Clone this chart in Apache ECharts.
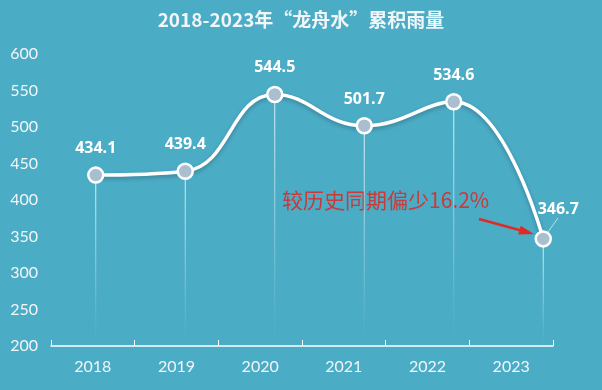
<!DOCTYPE html>
<html><head><meta charset="utf-8">
<script src="https://cdn.jsdelivr.net/npm/echarts@6/dist/echarts.min.js"></script>
<style>html,body{margin:0;padding:0;background:#4bacc6;}#c{width:602px;height:390px;}</style>
</head><body><div id="c"></div>
<script>
const years = ['2018','2019','2020','2021','2022','2023'];
const rainfall = [434.1, 439.4, 544.5, 501.7, 534.6, 346.7];
const yTicks = {min:200, max:600, interval:50};
const titleText = '2018-2023年“龙舟水”累积雨量';
const noteText = '较历史同期偏少16.2%';

const chart = echarts.init(document.getElementById('c'));
chart.setOption({
  backgroundColor:'#4bacc6',
  animation:false,
  title:{text:titleText,left:'center',top:5,textStyle:{color:'#f2f6f8',fontSize:19,fontWeight:'bold',fontFamily:'Noto Sans CJK SC'}},
  grid:[{left:51,right:49,top:54,bottom:44},{left:51,right:14,top:54,bottom:44}],
  xAxis:[
    {type:'category',gridIndex:0,data:years,boundaryGap:true,
     axisLine:{lineStyle:{color:'#ffffff',width:1.5}},
     axisTick:{show:true,length:6,inside:true,lineStyle:{color:'#ffffff'}},
     axisLabel:{color:'#f2f6f8',fontSize:16,fontFamily:'Lato',margin:13}},
    {type:'category',gridIndex:1,data:years,boundaryGap:true,show:false}
  ],
  yAxis:[
    {type:'value',gridIndex:0,min:yTicks.min,max:yTicks.max,interval:yTicks.interval,
     axisLine:{show:false},axisTick:{show:false},splitLine:{show:false},
     axisLabel:{color:'#f2f6f8',fontSize:16,fontFamily:'Lato',margin:13}},
    {type:'value',gridIndex:1,min:yTicks.min,max:yTicks.max,interval:yTicks.interval,show:false,splitLine:{show:false}}
  ],
  series:[
    {type:'bar',xAxisIndex:1,yAxisIndex:1,data:rainfall,barWidth:1,silent:true,z:1,
     itemStyle:{color:new echarts.graphic.LinearGradient(0,0,0,1,[{offset:0,color:'rgba(255,255,255,0.85)'},{offset:0.85,color:'rgba(255,255,255,0.08)'},{offset:1,color:'rgba(255,255,255,0)'}])}},
    {type:'line',xAxisIndex:1,yAxisIndex:1,
     data:rainfall.map((v,i)=> i===5 ? {value:v,label:{offset:[15,-3]}} : v),
     smooth:0.45,z:3,
     lineStyle:{color:'#ffffff',width:3.5,shadowColor:'rgba(0,0,0,0.25)',shadowBlur:4,shadowOffsetY:2},
     symbol:'circle',symbolSize:15,
     itemStyle:{color:'#a9bfcf',borderColor:'#ffffff',borderWidth:2.5},
     label:{show:true,position:'top',distance:10,color:'#ffffff',fontSize:16,fontWeight:'bold',fontFamily:'Open Sans',
       formatter:p=>p.value.toFixed(1)}}
  ],
  graphic:[
    {type:'text',left:282,top:190,style:{text:noteText,fill:'#c93a3a',fontSize:21,fontFamily:'Noto Sans CJK SC'}},
    {type:'line',shape:{x1:479,y1:219,x2:522,y2:230.8},style:{stroke:'#e02a22',lineWidth:2.5}},
    {type:'polygon',shape:{points:[[534,234],[518.3,234.4],[520.7,225.8]]},style:{fill:'#e02a22'}},
    {type:'line',shape:{x1:548,y1:232,x2:558,y2:218},style:{stroke:'rgba(255,255,255,0.6)',lineWidth:1}}
  ]
});
</script></body></html>
